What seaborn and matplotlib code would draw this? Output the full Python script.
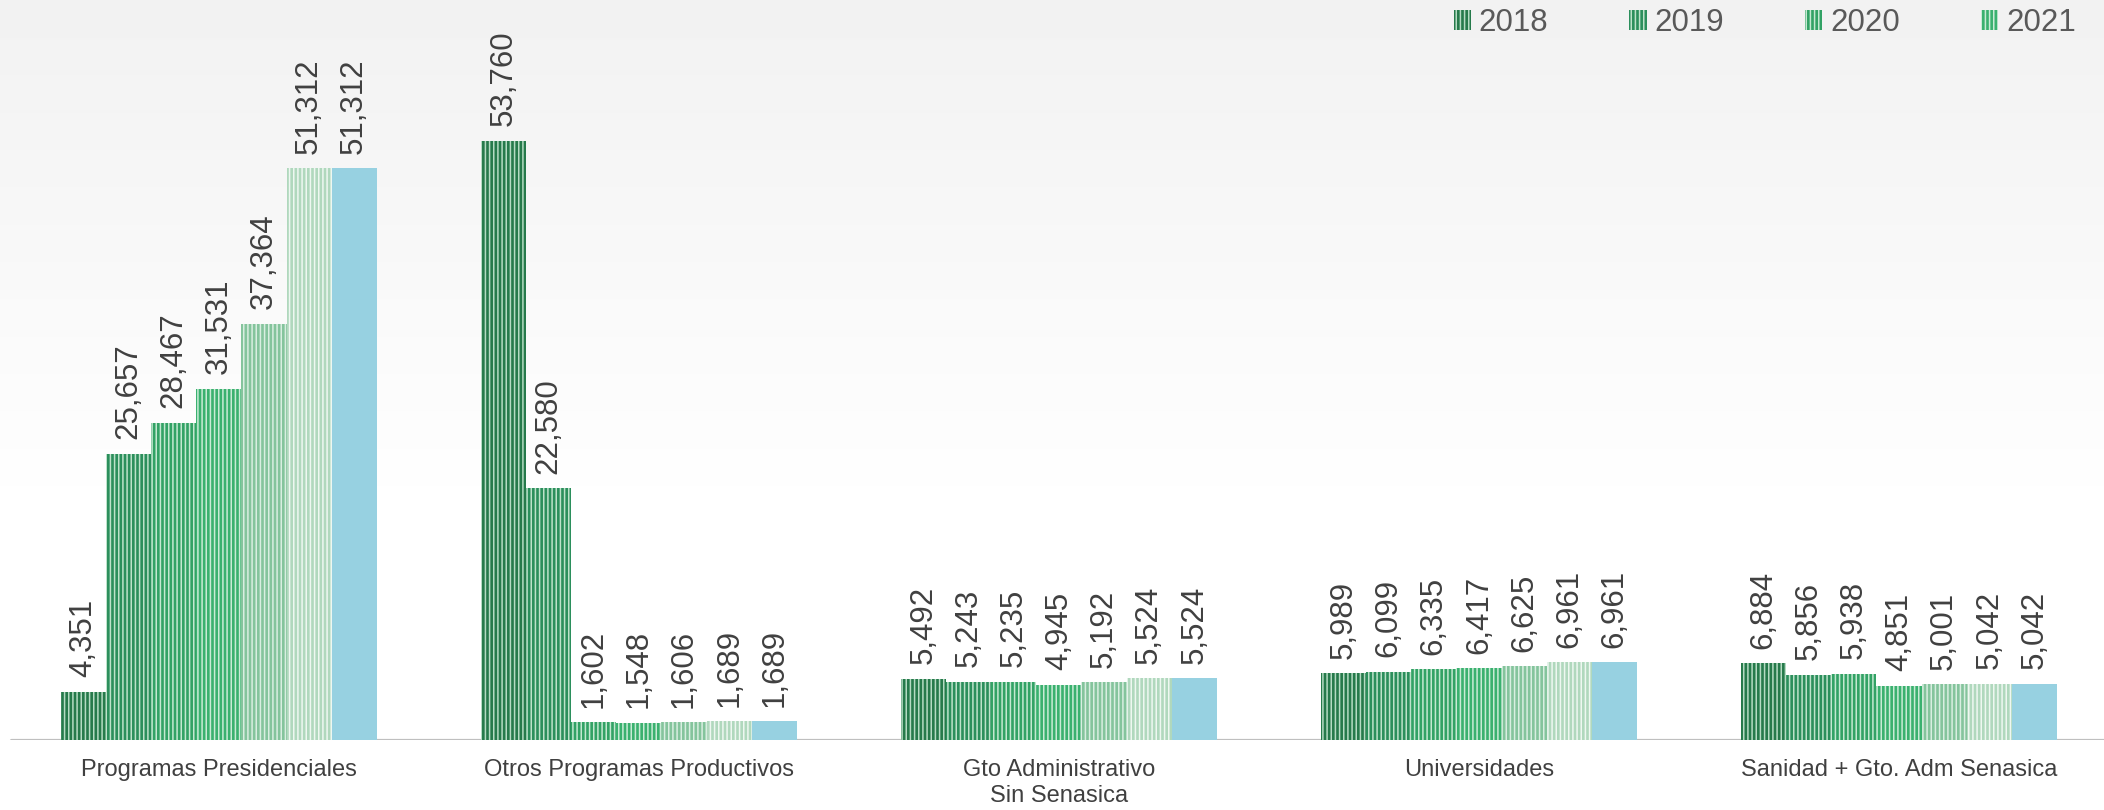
import matplotlib
matplotlib.use('Agg')
import matplotlib.pyplot as plt
import matplotlib.patches as mpatches
import matplotlib.colors as mcolors
import numpy as np
import pandas as pd
import seaborn as sns

categories = ['Programas Presidenciales', 'Otros Programas Productivos',
              'Gto Administrativo\nSin Senasica', 'Universidades',
              'Sanidad + Gto. Adm Senasica']
years = ['2018', '2019', '2020', '2021', '2022', '2023', '2024']
legend_years = ['2018', '2019', '2020', '2021']

v2018 = [4351, 53760, 5492, 5989, 6884]
v2019 = [25657, 22580, 5243, 6099, 5856]
v2020 = [28467, 1602, 5235, 6335, 5938]
v2021 = [31531, 1548, 4945, 6417, 4851]
v2022 = [37364, 1606, 5192, 6625, 5001]
v2023 = [51312, 1689, 5524, 6961, 5042]
v2024 = [51312, 1689, 5524, 6961, 5042]
series = [v2018, v2019, v2020, v2021, v2022, v2023, v2024]

# bar base colours and the light stripe colours on top of them
palette = ['#267a4b', '#2b8f5c', '#32a265', '#3ab16f', '#84c49c', '#b0d8bd', '#97d1e1']
stripes = ['#b5dbc3', '#bde2ca', '#c4e8d1', '#c9ebd6', '#d9eee1', '#eef7f1', None]

rows = []
for y, vals in zip(years, series):
    for c, v in zip(categories, vals):
        rows.append({'categoria': c, 'anio': y, 'valor': v})
df = pd.DataFrame(rows)

sns.set_theme(style='white')
plt.rcParams['font.family'] = ['Liberation Sans', 'DejaVu Sans']
plt.rcParams['hatch.linewidth'] = 1.1

W, H = 2104, 810
fig = plt.figure(figsize=(W / 100, H / 100), dpi=100, facecolor='white')

# soft grey-to-white background
bg = fig.add_axes([0, 0, 1, 1], zorder=0)
top = np.array(mcolors.to_rgb('#f2f2f2'))
t = np.clip(np.linspace(0, 1, H) / 0.6, 0, 1)[:, None]
grad = top + (1 - top) * t
img = np.repeat(grad[:, None, :], 2, axis=1)
bg.imshow(img, aspect='auto', extent=[0, 1, 0, 1], origin='upper')
bg.axis('off')

ax = fig.add_axes([0, 70 / H, 1, 740 / H], zorder=1)
ax.set_facecolor('none')

sns.barplot(data=df, x='categoria', y='valor', hue='anio', order=categories,
            hue_order=years, palette=palette, saturation=1, width=0.752,
            gap=0, linewidth=0, legend=False, ax=ax)

for i, cont in enumerate(ax.containers):
    for bar in cont:
        if stripes[i] is not None:
            bar.set_hatch('||||')
            bar.set_edgecolor(stripes[i])
        bar.set_linewidth(0)
    ax.bar_label(cont, labels=[f'{v:,}' for v in series[i]], padding=10.5,
                 rotation=90, fontsize=22.5, color='#404040')

ax.set_xlim(-0.521, 4.488)
ax.set_ylim(0, 66400)
ax.axhline(0, xmin=11 / W, xmax=1, color='#bfbfbf', lw=2.3, zorder=0.5)

ax.set_xlabel('')
ax.set_ylabel('')
ax.set_yticks([])
ax.tick_params(axis='x', length=0, pad=14, labelsize=17, colors='#404040')
for s in ax.spines.values():
    s.set_visible(False)

handles = [mpatches.Patch(facecolor=palette[i], edgecolor=stripes[i], hatch='||||',
                          linewidth=0, label=legend_years[i]) for i in range(4)]
fig.legend(handles=handles, loc='upper right', bbox_to_anchor=(2076 / W, 1 - 8 / H),
           ncol=4, frameon=False, fontsize=22.5, labelcolor='#595959',
           handlelength=0.55, handleheight=0.6, handletextpad=0.25,
           columnspacing=2.6, borderpad=0, borderaxespad=0)

fig.savefig('out.png', dpi=100)
